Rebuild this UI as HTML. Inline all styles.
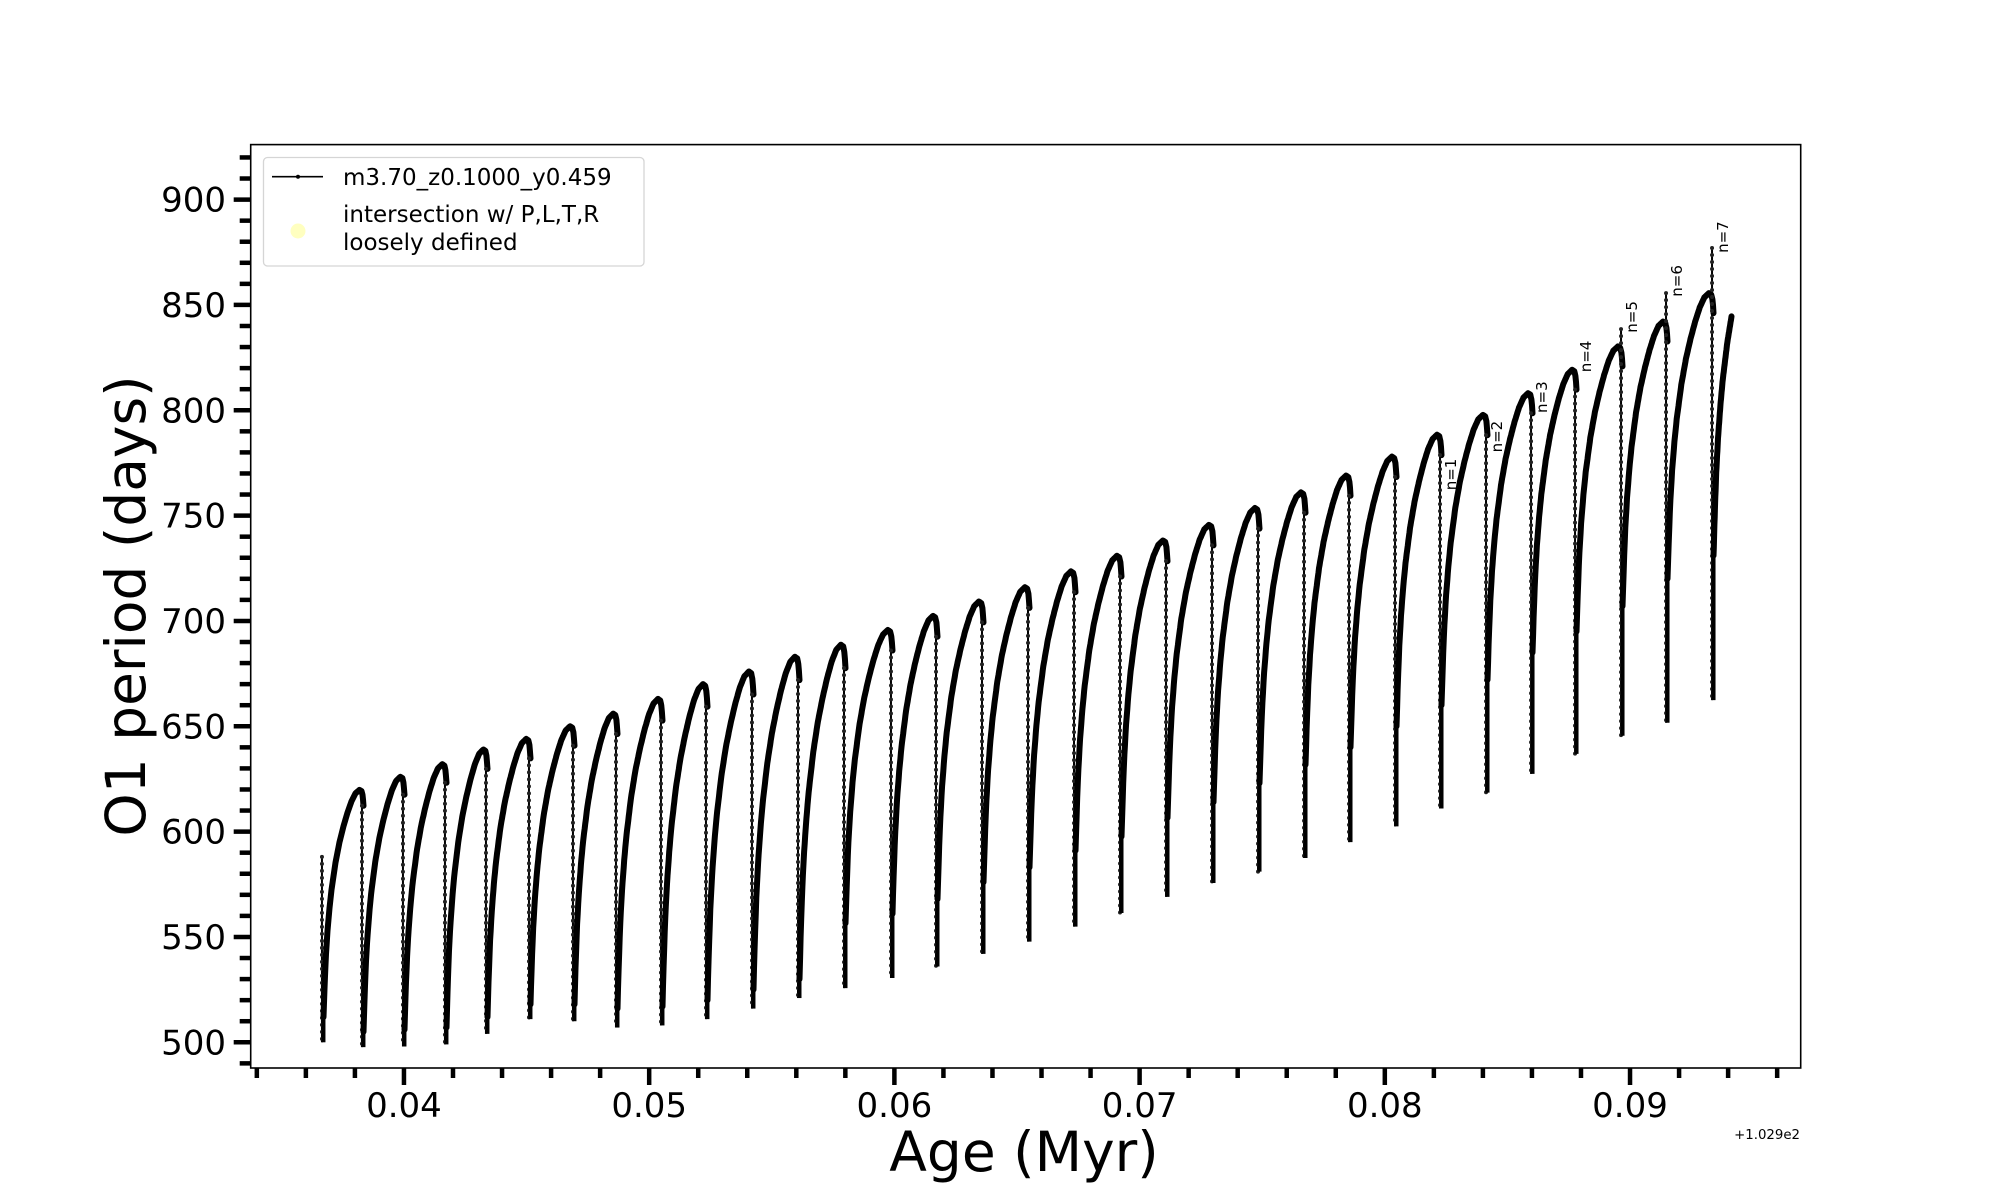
<!DOCTYPE html>
<html><head><meta charset="utf-8">
<style>
html,body{margin:0;padding:0;background:#fff;}
svg{display:block;font-family:"DejaVu Sans","Liberation Sans",sans-serif;}
</style></head>
<body>
<svg id="chart" width="2000" height="1200" viewBox="0 0 2000 1200" xmlns="http://www.w3.org/2000/svg">
<rect x="0" y="0" width="2000" height="1200" fill="#fff"/>
<g id="ticks"></g>
<g id="series"></g>
<g id="labels"></g>
<rect x="250.7" y="144.6" width="1550" height="923.4" fill="none" stroke="#000" stroke-width="1.6"/>
<text x="1024" y="1171" font-size="55" text-anchor="middle">Age (Myr)</text>
<text transform="translate(145,606) rotate(-90)" font-size="55" text-anchor="middle">O1 period (days)</text>
<text x="1800" y="1139" font-size="13.3" text-anchor="end">+1.029e2</text>
<g>
<rect x="263.5" y="157.5" width="380.5" height="108.5" rx="4" fill="#fff" fill-opacity="0.8" stroke="#d5d5d5" stroke-width="1.3"/>
<line x1="272" y1="176.7" x2="323" y2="176.7" stroke="#000" stroke-width="1.6"/>
<circle cx="298" cy="176.7" r="2" fill="#000"/>
<text x="343" y="185" font-size="23">m3.70_z0.1000_y0.459</text>
<circle cx="298" cy="231" r="7.5" fill="#ffffb0" fill-opacity="0.8"/>
<text x="343" y="222" font-size="23">intersection w/ P,L,T,R</text>
<text x="343" y="250" font-size="23">loosely defined</text>
</g>
</svg>
<script>
// ---- data (ages offset from 102.9 Myr, periods in days) ----
const dropAges = [0.036656,0.038287,0.039959,0.041672,0.043344,0.045098,0.046892,0.048646,0.050481,0.052316,0.054192,0.056069,0.057945,0.059861,0.061697,0.063573,0.065449,0.067325,0.069201,0.071077,0.072953,0.074829,0.076705,0.078540,0.080416,0.082251,0.084127,0.085963,0.087757,0.089633,0.091468,0.093344];
const endAge = 0.094078;
const minVals = [500,497.7,498,499,504,511,510,507,508,511,516,521,525.7,530.5,536,542,547.8,554.9,561.4,569,575.6,581,587.5,595,602.5,611,618.5,627.4,636.9,645.5,651.7,662.4];
const riseStartVals = [512,505,506,507,512,518,518,516,517,520,525,530,556.5,561,568,576,583,591,597.7,606.5,614,623,631.7,640,650,660,672,685,695,707,720,731];
const peakVals = [619.8,626,632,639,644,650,656,663,670,676,683,688.7,695.7,702.4,709.2,716,723.5,730.9,738.2,745.6,753.6,761,769,778,788.4,797.8,808.1,819.2,830.3,842.1,855.6,880];
const firstTopVal = 588;
const spikeTops = {29:838.5,30:855.6,31:877};
const riseProfileT = [0,0.03,0.06,0.1,0.15,0.2,0.3,0.4,0.5,0.6,0.7,0.8,0.9,0.95,0.98,1];
const riseProfileF = [0,0.15,0.27,0.38,0.48,0.56,0.68,0.77,0.84,0.9,0.95,0.985,1,0.995,0.975,0.93];
const nLabels = ["n=1","n=2","n=3","n=4","n=5","n=6","n=7"];
const nLabelDrops = [25,26,27,28,29,30,31];
const nLabelVals = [762,780,798.7,818,836.8,853.9,874.7];
const yMajorTicks = [500,550,600,650,700,750,800,850,900];
const xMajorTicks = [0.04,0.05,0.06,0.07,0.08,0.09];
const xTickLabels = ["0.04","0.05","0.06","0.07","0.08","0.09"];

// ---- axes ----
const X0=250.7, X1=1800.7, Y0=144.6, Y1=1068;
const xMin=0.03375, xMax=0.09696, yMin=487.8, yMax=926.1;
function sx(a){return X0+(a-xMin)/(xMax-xMin)*(X1-X0);}
function sy(v){return Y1-(v-yMin)/(yMax-yMin)*(Y1-Y0);}
const NS="http://www.w3.org/2000/svg";
function mk(tag,attrs,parent){const e=document.createElementNS(NS,tag);for(const k in attrs)e.setAttribute(k,attrs[k]);parent.appendChild(e);return e;}

const ticks=document.getElementById('ticks');
for(let v=490;v<=920;v+=10){
  const major=yMajorTicks.indexOf(v)>=0;
  const t=mk('line',{x1:X0,x2:X0-(major?17:11),y1:sy(v),y2:sy(v),stroke:'#000','stroke-width':4.5},ticks);
  
  
}
yMajorTicks.forEach(v=>{
  const t=mk('text',{x:226,y:sy(v)+12,'font-size':34,'text-anchor':'end'},ticks);
  t.textContent=String(v);
  
  
});
for(let k=17;k<=48;k++){
  const a=k*0.002;
  const major=(k%5===0);
  const t=mk('line',{x1:sx(a),x2:sx(a),y1:Y1,y2:Y1+(major?17:10),stroke:'#000','stroke-width':4.5},ticks);
  
  
}
xMajorTicks.forEach((a,i)=>{
  const t=mk('text',{x:sx(a),y:1117,'font-size':34,'text-anchor':'middle'},ticks);
  t.textContent=xTickLabels[i];
  
  
});

// ---- series ----
const series=document.getElementById('series');
function interp(t){
  for(let j=1;j<riseProfileT.length;j++){
    if(t<=riseProfileT[j]){const u=(t-riseProfileT[j-1])/(riseProfileT[j]-riseProfileT[j-1]);return riseProfileF[j-1]+u*(riseProfileF[j]-riseProfileF[j-1]);}
  }
  return riseProfileF[riseProfileF.length-1];
}
const n=dropAges.length;
const span=dropAges[n-1]-dropAges[n-2];
for(let i=0;i<n;i++){
  const a0=dropAges[i];
  const a1=(i<n-1)?dropAges[i+1]:a0+span;
  const aEnd=(i<n-1)?a1:endAge;
  let top;
  if(i===0) top=firstTopVal;
  else if(spikeTops[i]!==undefined) top=spikeTops[i];
  else top=riseStartVals[i-1]+(peakVals[i-1]-riseStartVals[i-1])*riseProfileF[riseProfileF.length-1];
  const dl=mk('line',{x1:sx(a0),x2:sx(a0),y1:sy(top),y2:sy(minVals[i]),stroke:'#000','stroke-width':2},series);
  
  
  const dd=mk('line',{x1:sx(a0),x2:sx(a0),y1:sy(top),y2:sy(minVals[i]),stroke:'#222','stroke-width':4,'stroke-linecap':'round','stroke-dasharray':'0 7'},series);
  
  
  const tail=mk('line',{x1:sx(a0)+1.5,x2:sx(a0)+1.5,y1:sy(minVals[i]),y2:sy(riseStartVals[i]),stroke:'#000','stroke-width':4},series);
  
  
  const pts=[];
  const steps=80;
  for(let s=0;s<=steps;s++){
    const a=a0+(aEnd-a0)*s/steps;
    const t=(a-a0)/(a1-a0);
    const v=riseStartVals[i]+(peakVals[i]-riseStartVals[i])*interp(t);
    pts.push((sx(a)+1.5).toFixed(1)+','+sy(v).toFixed(1));
  }
  const pl=mk('polyline',{points:pts.join(' '),fill:'none',stroke:'#000','stroke-width':6,'stroke-linejoin':'round','stroke-linecap':'round'},series);
  
  
}

// ---- n labels ----
const labels=document.getElementById('labels');
nLabels.forEach((s,k)=>{
  const x=sx(dropAges[nLabelDrops[k]])+16;
  const y=sy(nLabelVals[k]);
  const t=mk('text',{transform:'translate('+x.toFixed(1)+','+y.toFixed(1)+') rotate(-90)','font-size':15},labels);
  t.textContent=s;
  
  
});
</script>
</body></html>
